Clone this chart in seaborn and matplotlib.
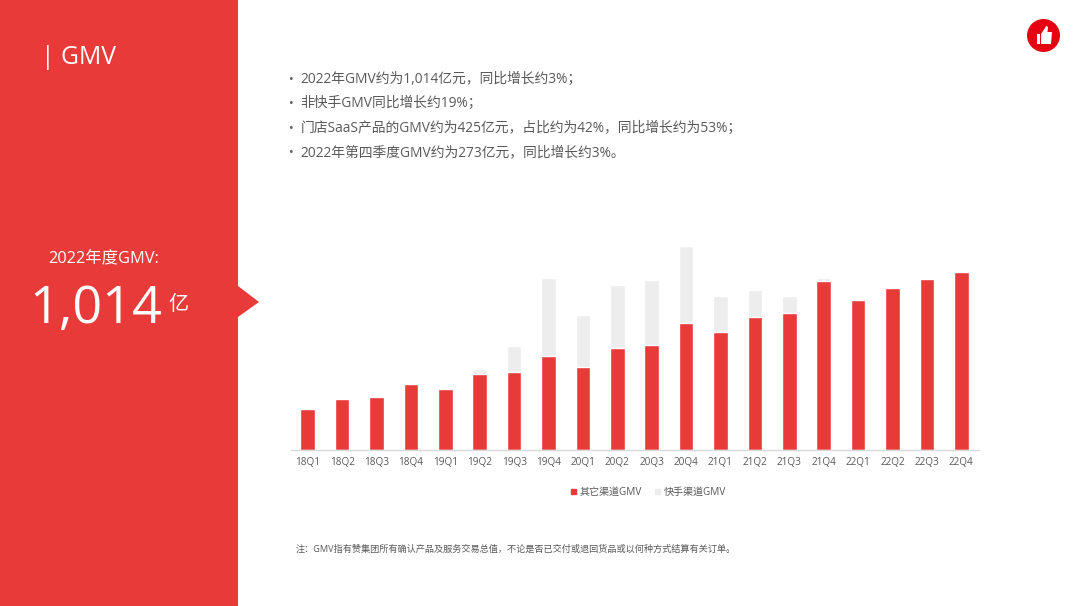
import pandas as pd
import seaborn as sns
import matplotlib.pyplot as plt
from matplotlib.patches import Rectangle, Polygon, Circle, Patch

# values in 亿元
quarters = ['18Q1', '18Q2', '18Q3', '18Q4', '19Q1', '19Q2', '19Q3', '19Q4', '20Q1', '20Q2',
            '20Q3', '20Q4', '21Q1', '21Q2', '21Q3', '21Q4', '22Q1', '22Q2', '22Q3', '22Q4']
other_gmv = [63, 78, 82, 101, 93, 116, 120, 144, 128, 157,
             162, 195, 182, 204, 211, 259, 230, 249, 262, 273]
kuaishou_gmv = [0, 0, 0, 0, 0, 9, 40, 120, 79, 96,
                99, 119, 54, 42, 26, 6, 0, 0, 0, 0]

bullets = ['2022年GMV约为1,014亿元，同比增长约3%；',
           '非快手GMV同比增长约19%；',
           '门店SaaS产品的GMV约为425亿元，占比约为42%，同比增长约为53%；',
           '2022年第四季度GMV约为273亿元，同比增长约3%。']
note = '注：GMV指有赞集团所有确认产品及服务交易总值，不论是否已交付或退回货品或以何种方式结算有关订单。'

RED = '#e93a3a'
GREY = '#ededed'
TEXT = '#595959'

sns.set_theme(style='white')
# Open Sans for latin and digits, CJK falls through to Noto
plt.rcParams['font.family'] = ['Open Sans', 'Noto Sans CJK SC', 'DejaVu Sans']

df = pd.DataFrame({'quarter': quarters, 'other': other_gmv, 'kuaishou': kuaishou_gmv})
df['total'] = df['other'] + df['kuaishou']

W, H = 1080, 606
fig = plt.figure(figsize=(W / 100, H / 100), dpi=100, facecolor='white')

# background layer in pixel coords, y going down like the slide
bg = fig.add_axes([0, 0, 1, 1])
bg.set_xlim(0, W)
bg.set_ylim(H, 0)
bg.axis('off')
bg.add_patch(Rectangle((0, 0), 238, H, color=RED, lw=0))
bg.add_patch(Polygon([(238, 286), (259, 302), (238, 317)], color=RED, lw=0))

bg.text(41, 58, '| GMV', color='white', fontsize=17.8, va='center', ha='left')
bg.text(48, 258, '2022年度GMV:', color='white', fontsize=11.8, va='center', ha='left')
bg.text(29, 310, '1,014', color='white', fontsize=37.5, va='center', ha='left')
bg.text(168, 305, '亿', color='white', fontsize=14.5, va='center', ha='left')

for i, line in enumerate(bullets):
    y = 79 + i * 24.6
    bg.text(289.5, y, '•', color=TEXT, fontsize=9, va='center', ha='left')
    bg.text(300.5, y, line, color=TEXT, fontsize=9.95, va='center', ha='left')

bg.text(296, 549, note, color=TEXT, fontsize=6.6, va='center', ha='left')

# thumbs up badge
bg.add_patch(Circle((1043.5, 35.5), 16.5, color='#e60012', lw=0))
bg.add_patch(Rectangle((1036.5, 34), 3, 10, color='white', lw=0))
bg.add_patch(Polygon([(1041, 34), (1045, 28), (1046, 26), (1048, 27), (1047.5, 32), (1052, 32),
                      (1051, 44), (1041, 44)], color='white', lw=0))

# chart
ax = fig.add_axes([290.5 / W, 1 - 450 / H, 688 / W, 220 / H])
ax.patch.set_alpha(0)
sns.barplot(data=df, x='quarter', y='total', color=GREY, width=0.42, saturation=1, ax=ax)
sns.barplot(data=df, x='quarter', y='other', color=RED, width=0.42, saturation=1, ax=ax)
ax.set_xlim(-0.5, 19.5)
ax.set_ylim(0, 338)
ax.set_xlabel('')
ax.set_ylabel('')
ax.set_yticks([])
sns.despine(ax=ax, left=True)
ax.spines['bottom'].set_color('#d9d9d9')
ax.spines['bottom'].set_linewidth(1)
ax.tick_params(axis='x', length=0, pad=5, labelsize=7.2, labelcolor=TEXT)

handles = [Patch(color=RED, label='其它渠道GMV'), Patch(color=GREY, label='快手渠道GMV')]
ax.legend(handles=handles, loc='center', bbox_to_anchor=(648.5 / W, 1 - 492.5 / H),
          bbox_transform=fig.transFigure, ncol=2, frameon=False, fontsize=7.2, labelcolor=TEXT,
          handlelength=0.5, handleheight=0.5, handletextpad=0.35, columnspacing=1.35)

fig.savefig('out.png', dpi=100)
